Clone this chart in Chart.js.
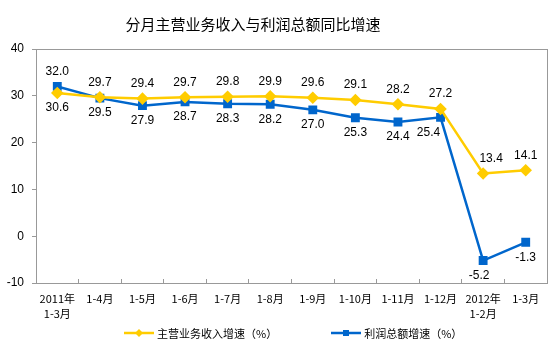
<!DOCTYPE html>
<html>
<head>
<meta charset="utf-8">
<script src="https://cdn.jsdelivr.net/npm/chart.js@4"></script>
<style>
  html, body { margin: 0; padding: 0; background: #fff; }
  #wrap { position: relative; width: 554px; height: 351px; }
  #title {
    position: absolute; left: 0; top: 13px; width: 506px; text-align: center;
    font: 15px "Noto Sans CJK SC", sans-serif; color: #000;
  }
  #legend {
    position: absolute; left: 124px; top: 324px; height: 18px;
    display: flex; align-items: center;
    font: 11px "Noto Sans CJK SC", sans-serif; color: #000;
  }
  .item { display: flex; align-items: center; }
  .item canvas { margin-right: 3px; }
  .item + .item { margin-left: 54px; }
</style>
</head>
<body>
<div id="wrap">
  <div id="title">分月主营业务收入与利润总额同比增速</div>
  <canvas id="c" width="554" height="351"></canvas>
  <div id="legend"></div>
</div>
<script>
// Category labels (two lines where needed)
const categories = [
  ['2011年', '1-3月'], '1-4月', '1-5月', '1-6月', '1-7月', '1-8月',
  '1-9月', '1-10月', '1-11月', '1-12月', ['2012年', '1-2月'], '1-3月'
];
const revenueGrowth = [30.6, 29.7, 29.4, 29.7, 29.8, 29.9, 29.6, 29.1, 28.2, 27.2, 13.4, 14.1];
const profitGrowth  = [32.0, 29.5, 27.9, 28.7, 28.3, 28.2, 27.0, 25.3, 24.4, 25.4, -5.2, -1.3];
// label above (true) or below (false) the point
const revenueLabelAbove = [false, true, true, true, true, true, true, true, true, true, true, true];
const profitLabelAbove  = [true, false, false, false, false, false, false, false, false, false, false, false];
const yTicks = [-10, 0, 10, 20, 30, 40];

const YELLOW = '#FFCC00';
const BLUE = '#0066CC';
const AXIS = '#999999';

// a few labels are nudged sideways in the original to keep clear of the lines
const NUDGE = { '0-10': 8, '1-9': -12, '1-10': -4 };

// legend swatch: short line with the marker in the middle
function legendSwatch(color, style) {
  const cv = document.createElement('canvas');
  cv.width = 30; cv.height = 10;
  const g = cv.getContext('2d');
  g.strokeStyle = color; g.lineWidth = 2.5;
  g.beginPath(); g.moveTo(0, 5); g.lineTo(30, 5); g.stroke();
  g.fillStyle = color;
  g.beginPath();
  if (style === 'diamond') {
    g.moveTo(15, 1); g.lineTo(19, 5); g.lineTo(15, 9); g.lineTo(11, 5);
  } else {
    g.rect(12, 2, 6, 6);
  }
  g.closePath(); g.fill();
  return cv;
}

// value labels above / below each point
const valueLabels = {
  id: 'valueLabels',
  afterDatasetsDraw(chart) {
    const ctx = chart.ctx;
    ctx.save();
    ctx.font = '12px "Liberation Sans", Arial, sans-serif';
    ctx.fillStyle = '#000';
    ctx.textAlign = 'center';
    ctx.textBaseline = 'middle';
    const above = [revenueLabelAbove, profitLabelAbove];
    chart.data.datasets.forEach((ds, di) => {
      chart.getDatasetMeta(di).data.forEach((pt, i) => {
        const dy = above[di][i] ? -15 : 15;
        const dx = NUDGE[di + '-' + i] || 0;
        ctx.fillText(ds.data[i].toFixed(1), pt.x + dx, pt.y + dy);
      });
    });
    ctx.restore();
  }
};

// grey frame around the plot area
const frame = {
  id: 'frame',
  beforeDatasetsDraw(chart) {
    const a = chart.chartArea, ctx = chart.ctx;
    ctx.save();
    ctx.strokeStyle = AXIS; ctx.lineWidth = 1;
    ctx.strokeRect(Math.round(a.left) + 0.5, Math.round(a.top) + 0.5,
      Math.round(a.right - a.left), Math.round(a.bottom - a.top));
    ctx.restore();
  }
};

const chart = new Chart(document.getElementById('c'), {
  type: 'line',
  data: {
    labels: categories,
    datasets: [
      {
        label: '主营业务收入增速（%）',
        data: revenueGrowth,
        borderColor: YELLOW, backgroundColor: YELLOW,
        borderWidth: 2.5, pointStyle: 'rectRot', pointRadius: 4.5,
        tension: 0
      },
      {
        label: '利润总额增速（%）',
        data: profitGrowth,
        borderColor: BLUE, backgroundColor: BLUE,
        borderWidth: 2.5, pointStyle: 'rect', pointRadius: 4.5,
        tension: 0
      }
    ]
  },
  options: {
    responsive: false,
    animation: false,
    layout: { padding: { top: 49, right: 5, left: 0, bottom: 28 } },
    plugins: {
      title: { display: false },
      tooltip: { enabled: false },
      legend: { display: false }
    },
    scales: {
      x: {
        offset: true,
        // tick marks sit between categories and point into the plot
        grid: { display: true, drawOnChartArea: false, offset: true, tickLength: -4, color: AXIS },
        border: { color: AXIS },
        ticks: {
          color: '#000', padding: 13, maxRotation: 0, autoSkip: false,
          font: { family: '"Noto Sans CJK SC", sans-serif', size: 11, lineHeight: 1.3 }
        },
        afterFit(scale) { scale.height = 40; }
      },
      y: {
        min: -10, max: 40,
        afterBuildTicks(scale) { scale.ticks = yTicks.map(v => ({ value: v })); },
        grid: { drawOnChartArea: false, tickLength: 4, color: AXIS },
        border: { color: AXIS },
        ticks: {
          color: '#000', padding: 8,
          font: { family: '"Liberation Sans", Arial, sans-serif', size: 12 }
        },
        afterFit(scale) { scale.width = 36; }
      }
    }
  },
  plugins: [frame, valueLabels]
});

// HTML legend built from the datasets
const legend = document.getElementById('legend');
chart.data.datasets.forEach((ds, i) => {
  const item = document.createElement('div');
  item.className = 'item';
  item.appendChild(legendSwatch(ds.borderColor, i === 0 ? 'diamond' : 'square'));
  const span = document.createElement('span');
  span.textContent = ds.label;
  item.appendChild(span);
  legend.appendChild(item);
});
</script>
</body>
</html>
